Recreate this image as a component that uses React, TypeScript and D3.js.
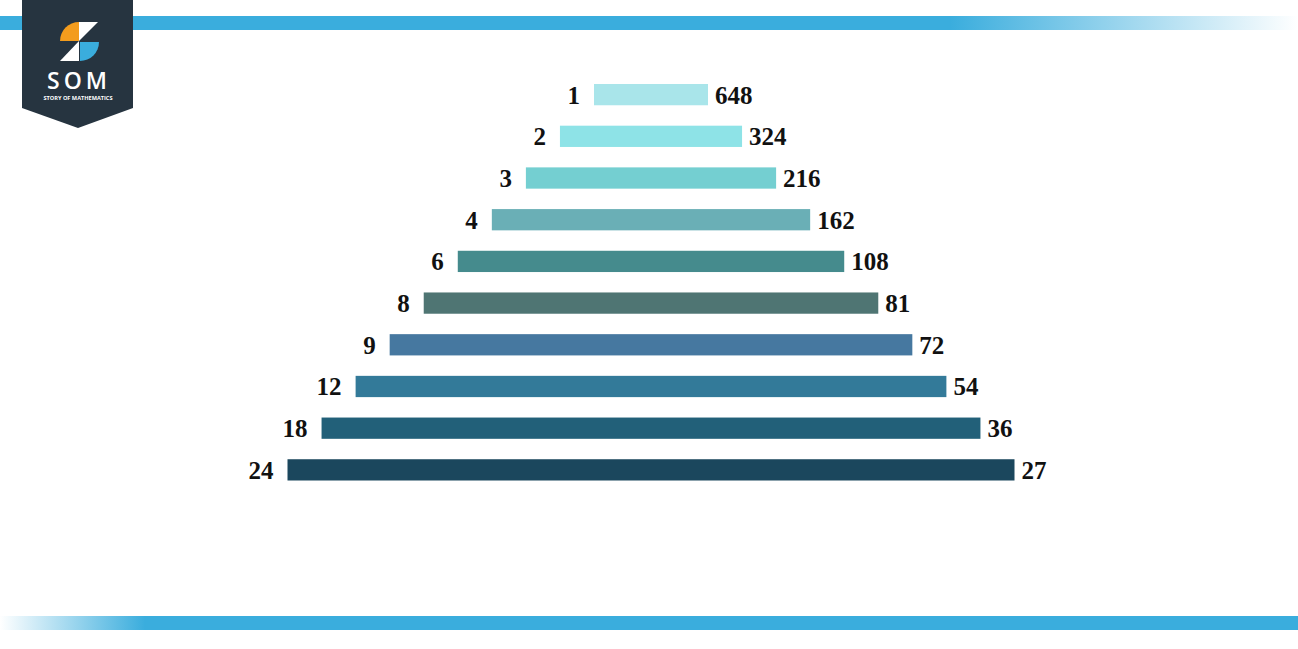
import React from "react";
import * as d3 from "d3";

const factors = [1, 2, 3, 4, 6, 8, 9, 12, 18, 24];
const pairs = [648, 324, 216, 162, 108, 81, 72, 54, 36, 27];
const barColors = [
  "#a9e5ea", "#8ee3e7", "#74cfd1", "#6aafb6", "#458b8d",
  "#4f7573", "#4678a0", "#337a99", "#226079", "#1b475d",
];

const W = 1298;
const H = 649;

export default function App() {
  const idx = factors.map((_, i) => i);
  const y = d3.scaleBand<number>().domain(idx).range([84, 480.5]).paddingInner(0.49).paddingOuter(0);
  const w = d3.scaleLinear().domain([0, factors.length - 1]).range([114, 727]);
  const cx = 651;
  const font = "'Liberation Serif', 'DejaVu Serif', serif";

  return (
    <svg width={W} height={H} style={{ position: "absolute", left: 0, top: 0, background: "#fff" }}>
      <defs>
        <linearGradient id="topG" x1="0" x2="1" y1="0" y2="0">
          <stop offset="0" stopColor="#3aaddd" />
          <stop offset={950 / W} stopColor="#3aaddd" />
          <stop offset="1" stopColor="#3aaddd" stopOpacity="0" />
        </linearGradient>
        <linearGradient id="botG" x1="0" x2="1" y1="0" y2="0">
          <stop offset="0" stopColor="#3aaddd" stopOpacity="0" />
          <stop offset={145 / W} stopColor="#3aaddd" />
          <stop offset="1" stopColor="#3aaddd" />
        </linearGradient>
      </defs>
      <rect x={0} y={16} width={W} height={14} fill="url(#topG)" />
      <rect x={0} y={616} width={W} height={14} fill="url(#botG)" />

      {/* logo */}
      <g>
        <path d="M22,0 L133,0 L133,108 L78,128 L22,108 Z" fill="#263440" />
        <path d="M79,41 L60,41 A19,19 0 0 1 79,22 Z" fill="#f39c1d" />
        <path d="M79,22 L98,22 L79,41 Z" fill="#ffffff" />
        <path d="M79,41 L79,61 L60,61 Z" fill="#ffffff" />
        <path d="M80,42 L99,42 A19,19 0 0 1 80,61 Z" fill="#3aaddd" />
        <text x={79} y={89} textAnchor="middle" fill="#fff" fontFamily="'Open Sans', 'DejaVu Sans', sans-serif"
          fontWeight={600} fontSize={23} letterSpacing={4}>SOM</text>
        <text x={78} y={100} textAnchor="middle" fill="#fff" fontFamily="'Open Sans', 'DejaVu Sans', sans-serif"
          fontWeight={700} fontSize={5.6}>STORY OF MATHEMATICS</text>
      </g>

      {idx.map((i) => {
        const bw = w(i);
        const x0 = cx - bw / 2;
        const yy = y(i)!;
        const bh = y.bandwidth();
        return (
          <g key={i}>
            <rect x={x0} y={yy} width={bw} height={bh} fill={barColors[i]} />
            <text x={x0 - 14} y={yy + bh / 2 + 9} textAnchor="end" fontFamily={font} fontWeight={700}
              fontSize={25} fill="#111">{factors[i]}</text>
            <text x={x0 + bw + 7} y={yy + bh / 2 + 9} textAnchor="start" fontFamily={font} fontWeight={700}
              fontSize={25} fill="#111">{pairs[i]}</text>
          </g>
        );
      })}
    </svg>
  );
}
